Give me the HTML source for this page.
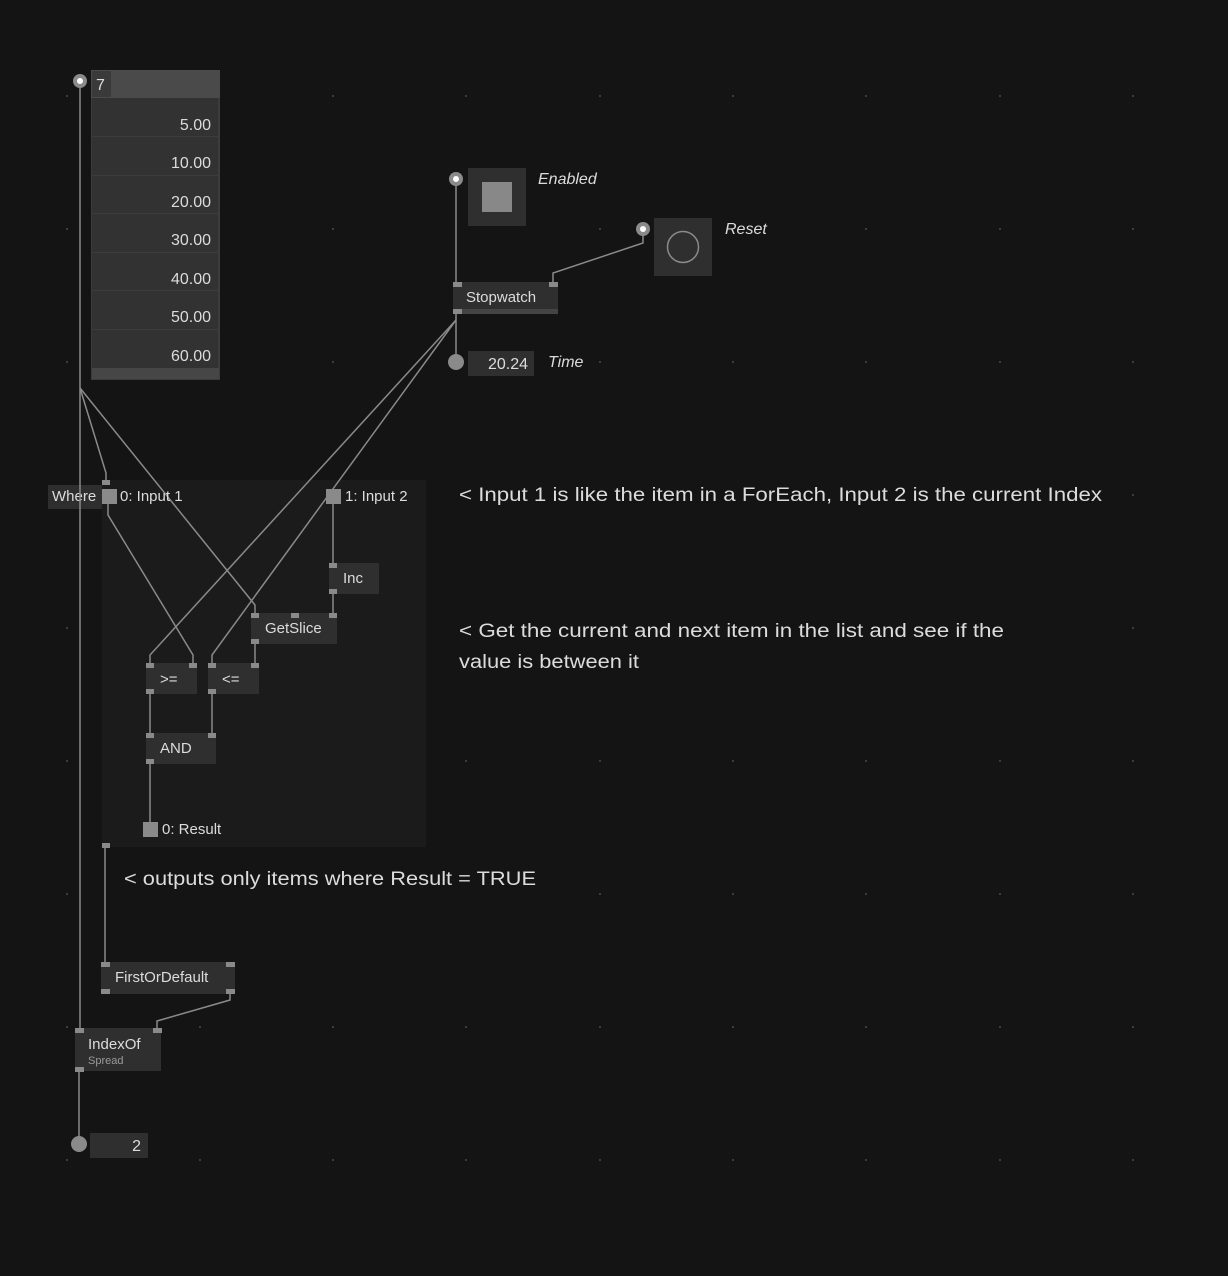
<!DOCTYPE html>
<html><head><meta charset="utf-8"><style>
html,body{margin:0;padding:0;background:#141414;}
svg{display:block;}
text{font-family:"Liberation Sans","DejaVu Sans",sans-serif;fill:#dcdcdc;}
</style></head><body>
<svg width="1228" height="1276" viewBox="0 0 1228 1276" xmlns="http://www.w3.org/2000/svg">
<rect width="1228" height="1276" fill="#141414"/>
<g fill="#3a3a3a" id="dots">
<!-- grid dots -->
</g>
<script>/* none */</script>
<g fill="#3c3c3c">
<rect x="66" y="95" width="2" height="2"/><rect x="199" y="95" width="2" height="2"/><rect x="332" y="95" width="2" height="2"/><rect x="465" y="95" width="2" height="2"/><rect x="599" y="95" width="2" height="2"/><rect x="732" y="95" width="2" height="2"/><rect x="865" y="95" width="2" height="2"/><rect x="999" y="95" width="2" height="2"/><rect x="1132" y="95" width="2" height="2"/>
<rect x="66" y="228" width="2" height="2"/><rect x="199" y="228" width="2" height="2"/><rect x="332" y="228" width="2" height="2"/><rect x="599" y="228" width="2" height="2"/><rect x="865" y="228" width="2" height="2"/><rect x="999" y="228" width="2" height="2"/><rect x="1132" y="228" width="2" height="2"/>
<rect x="66" y="361" width="2" height="2"/><rect x="199" y="361" width="2" height="2"/><rect x="332" y="361" width="2" height="2"/><rect x="599" y="361" width="2" height="2"/><rect x="732" y="361" width="2" height="2"/><rect x="865" y="361" width="2" height="2"/><rect x="999" y="361" width="2" height="2"/><rect x="1132" y="361" width="2" height="2"/>
<rect x="1132" y="494" width="2" height="2"/>
<rect x="66" y="627" width="2" height="2"/><rect x="1132" y="627" width="2" height="2"/>
<rect x="66" y="760" width="2" height="2"/><rect x="465" y="760" width="2" height="2"/><rect x="599" y="760" width="2" height="2"/><rect x="732" y="760" width="2" height="2"/><rect x="865" y="760" width="2" height="2"/><rect x="999" y="760" width="2" height="2"/><rect x="1132" y="760" width="2" height="2"/>
<rect x="66" y="893" width="2" height="2"/><rect x="599" y="893" width="2" height="2"/><rect x="732" y="893" width="2" height="2"/><rect x="865" y="893" width="2" height="2"/><rect x="999" y="893" width="2" height="2"/><rect x="1132" y="893" width="2" height="2"/>
<rect x="66" y="1026" width="2" height="2"/><rect x="199" y="1026" width="2" height="2"/><rect x="332" y="1026" width="2" height="2"/><rect x="465" y="1026" width="2" height="2"/><rect x="599" y="1026" width="2" height="2"/><rect x="732" y="1026" width="2" height="2"/><rect x="865" y="1026" width="2" height="2"/><rect x="999" y="1026" width="2" height="2"/><rect x="1132" y="1026" width="2" height="2"/>
<rect x="66" y="1159" width="2" height="2"/><rect x="199" y="1159" width="2" height="2"/><rect x="332" y="1159" width="2" height="2"/><rect x="465" y="1159" width="2" height="2"/><rect x="599" y="1159" width="2" height="2"/><rect x="732" y="1159" width="2" height="2"/><rect x="865" y="1159" width="2" height="2"/><rect x="999" y="1159" width="2" height="2"/><rect x="1132" y="1159" width="2" height="2"/>
</g>

<!-- Where region -->
<rect x="102" y="480" width="324" height="367" fill="#1b1b1b"/>
<rect x="48" y="485" width="54" height="24" fill="#2e2e2e"/>
<text x="52" y="501" font-size="15">Where</text>

<!-- Spread node -->
<rect x="91" y="70" width="129" height="310" fill="#3c3c3c"/>
<rect x="91" y="70" width="129" height="28" fill="#4a4a4a"/>
<rect x="92" y="71" width="19" height="26" fill="#3a3a3a"/>
<text x="96" y="90" font-size="16">7</text>
<rect x="92" y="98" width="126" height="270" fill="#323232"/>
<g stroke="#3c3c3c" stroke-width="1">
<line x1="92" y1="136.5" x2="218" y2="136.5"/><line x1="92" y1="175.5" x2="218" y2="175.5"/><line x1="92" y1="213.5" x2="218" y2="213.5"/><line x1="92" y1="252.5" x2="218" y2="252.5"/><line x1="92" y1="290.5" x2="218" y2="290.5"/><line x1="92" y1="329.5" x2="218" y2="329.5"/>
</g>
<rect x="92" y="368" width="127" height="11" fill="#464646"/>
<g font-size="16" text-anchor="end">
<text x="211" y="130">5.00</text><text x="211" y="168">10.00</text><text x="211" y="207">20.00</text><text x="211" y="245">30.00</text><text x="211" y="284">40.00</text><text x="211" y="322">50.00</text><text x="211" y="361">60.00</text>
</g>

<!-- wires -->
<g stroke="#8a8a8a" stroke-width="1.5" fill="none">
<line x1="80" y1="84" x2="80" y2="1030"/>
<polyline points="80,388 106,473 106,480"/>
<polyline points="80,388 255,605 255,613"/>
<polyline points="108,503 108,515 193,655 193,663"/>
<polyline points="456,320 150,655 150,663"/>
<polyline points="456,320 212,655 212,663"/>
<line x1="333" y1="503" x2="333" y2="563"/>
<line x1="333" y1="594" x2="333" y2="613"/>
<line x1="255" y1="644" x2="255" y2="663"/>
<line x1="150" y1="694" x2="150" y2="733"/>
<line x1="212" y1="694" x2="212" y2="733"/>
<line x1="150" y1="764" x2="150" y2="822"/>
<line x1="105" y1="848" x2="105" y2="962"/>
<polyline points="230,994 230,1000 157,1021 157,1028"/>
<line x1="79" y1="1071" x2="79" y2="1140"/>
<line x1="456" y1="183" x2="456" y2="282"/>
<polyline points="643,233 643,243 553,273 553,282"/>
<line x1="456" y1="313" x2="456" y2="358"/>
</g>

<!-- spread pin -->
<circle cx="80" cy="81" r="7" fill="#8a8a8a"/><circle cx="80" cy="81" r="3" fill="#fff"/>

<!-- Where pins -->
<rect x="102" y="480" width="8" height="5" fill="#8a8a8a"/>
<rect x="102" y="489" width="15" height="15" fill="#8a8a8a"/>
<text x="120" y="501" font-size="15">0: Input 1</text>
<rect x="326" y="489" width="15" height="15" fill="#8a8a8a"/>
<text x="345" y="501" font-size="15">1: Input 2</text>
<rect x="143" y="822" width="15" height="15" fill="#8a8a8a"/>
<text x="162" y="834" font-size="15">0: Result</text>
<rect x="102" y="843" width="8" height="5" fill="#8a8a8a"/>

<!-- nodes -->
<g>
<rect x="329" y="563" width="50" height="31" fill="#2f2f2f"/>
<rect x="329" y="563" width="8" height="5" fill="#8a8a8a"/><rect x="329" y="589" width="8" height="5" fill="#8a8a8a"/>
<text x="343" y="583" font-size="15">Inc</text>

<rect x="251" y="613" width="86" height="31" fill="#2f2f2f"/>
<rect x="251" y="613" width="8" height="5" fill="#8a8a8a"/><rect x="291" y="613" width="8" height="5" fill="#8a8a8a"/><rect x="329" y="613" width="8" height="5" fill="#8a8a8a"/><rect x="251" y="639" width="8" height="5" fill="#8a8a8a"/>
<text x="265" y="633" font-size="15">GetSlice</text>

<rect x="146" y="663" width="51" height="31" fill="#2f2f2f"/>
<rect x="146" y="663" width="8" height="5" fill="#8a8a8a"/><rect x="189" y="663" width="8" height="5" fill="#8a8a8a"/><rect x="146" y="689" width="8" height="5" fill="#8a8a8a"/>
<text x="160" y="684" font-size="15">&gt;=</text>

<rect x="208" y="663" width="51" height="31" fill="#2f2f2f"/>
<rect x="208" y="663" width="8" height="5" fill="#8a8a8a"/><rect x="251" y="663" width="8" height="5" fill="#8a8a8a"/><rect x="208" y="689" width="8" height="5" fill="#8a8a8a"/>
<text x="222" y="684" font-size="15">&lt;=</text>

<rect x="146" y="733" width="70" height="31" fill="#2f2f2f"/>
<rect x="146" y="733" width="8" height="5" fill="#8a8a8a"/><rect x="208" y="733" width="8" height="5" fill="#8a8a8a"/><rect x="146" y="759" width="8" height="5" fill="#8a8a8a"/>
<text x="160" y="753" font-size="15">AND</text>

<rect x="101" y="962" width="134" height="32" fill="#2f2f2f"/>
<rect x="101" y="962" width="9" height="5" fill="#8a8a8a"/><rect x="226" y="962" width="9" height="5" fill="#8a8a8a"/><rect x="101" y="989" width="9" height="5" fill="#8a8a8a"/><rect x="226" y="989" width="9" height="5" fill="#8a8a8a"/>
<text x="115" y="982" font-size="15">FirstOrDefault</text>

<rect x="75" y="1028" width="86" height="43" fill="#2f2f2f"/>
<rect x="75" y="1028" width="9" height="5" fill="#8a8a8a"/><rect x="153" y="1028" width="9" height="5" fill="#8a8a8a"/><rect x="75" y="1067" width="9" height="5" fill="#8a8a8a"/>
<text x="88" y="1049" font-size="15">IndexOf</text>
<text x="88" y="1064" font-size="11" fill="#9a9a9a" style="fill:#9a9a9a">Spread</text>

<circle cx="79" cy="1144" r="8" fill="#8a8a8a"/>
<rect x="90" y="1133" width="58" height="25" fill="#2f2f2f"/>
<text x="141" y="1151" font-size="16" text-anchor="end">2</text>

<!-- stopwatch area -->
<circle cx="456" cy="179" r="7" fill="#8a8a8a"/><circle cx="456" cy="179" r="3" fill="#fff"/>
<rect x="468" y="168" width="58" height="58" fill="#2f2f2f"/>
<rect x="482" y="182" width="30" height="30" fill="#888"/>
<text x="538" y="184" font-size="16" font-style="italic">Enabled</text>

<circle cx="643" cy="229" r="7" fill="#8a8a8a"/><circle cx="643" cy="229" r="3" fill="#fff"/>
<rect x="654" y="218" width="58" height="58" fill="#2f2f2f"/>
<circle cx="683" cy="247" r="15.5" fill="none" stroke="#8a8a8a" stroke-width="1.5"/>
<text x="725" y="234" font-size="16" font-style="italic">Reset</text>

<rect x="453" y="282" width="105" height="32" fill="#2f2f2f"/>
<rect x="453" y="309" width="105" height="5" fill="#444"/>
<rect x="453" y="282" width="9" height="5" fill="#8a8a8a"/><rect x="549" y="282" width="9" height="5" fill="#8a8a8a"/><rect x="453" y="309" width="9" height="5" fill="#8a8a8a"/>
<text x="466" y="302" font-size="15">Stopwatch</text>

<circle cx="456" cy="362" r="8" fill="#8a8a8a"/>
<rect x="468" y="351" width="66" height="25" fill="#2f2f2f"/>
<text x="528" y="369" font-size="16" text-anchor="end">20.24</text>
<text x="548" y="367" font-size="16" font-style="italic">Time</text>
</g>

<!-- comments -->
<g font-size="19">
<text x="459" y="501" textLength="643" lengthAdjust="spacingAndGlyphs">&lt; Input 1 is like the item in a ForEach, Input 2 is the current Index</text>
<text x="459" y="637" textLength="545" lengthAdjust="spacingAndGlyphs">&lt; Get the current and next item in the list and see if the</text>
<text x="459" y="668" textLength="180" lengthAdjust="spacingAndGlyphs">value is between it</text>
<text x="124" y="885" textLength="412" lengthAdjust="spacingAndGlyphs">&lt; outputs only items where Result = TRUE</text>
</g>
</svg>
</body></html>
